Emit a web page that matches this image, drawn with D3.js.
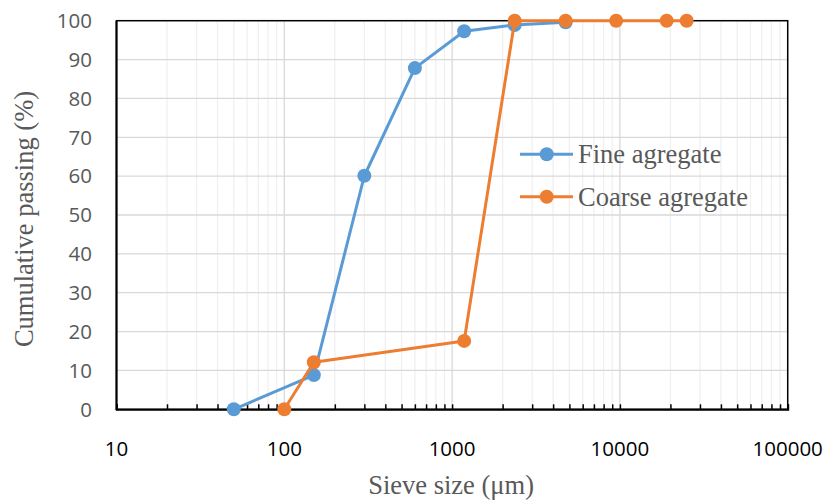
<!DOCTYPE html>
<html><head><meta charset="utf-8">
<script src="https://cdn.jsdelivr.net/npm/d3@7"></script>
<style>body{margin:0;background:#fff}svg{display:block}</style>
</head><body>
<svg id="c" width="826" height="502"></svg>
<script>
const fineSize = [50, 150, 300, 600, 1180, 2360, 4750];
const finePass = [0, 8.8, 60.1, 87.8, 97.3, 98.9, 99.6];
const coarseSize = [100, 150, 1180, 2360, 4750, 9500, 19000, 25000];
const coarsePass = [0, 12.1, 17.6, 100, 100, 100, 100, 100];
const xTicks = [10, 100, 1000, 10000, 100000];
const yTicks = [0, 10, 20, 30, 40, 50, 60, 70, 80, 90, 100];
const seriesNames = ["Fine agregate", "Coarse agregate"];
const colors = ["#5B9BD5", "#ED7D31"];
const xTitle = "Sieve size (μm)";
const yTitle = "Cumulative passing (%)";

const svg = d3.select("#c");
const L = 116.5, R = 787.7, T = 20.7, B = 409.3;
const x = d3.scaleLog().domain([10, 100000]).range([L, R]);
const y = d3.scaleLinear().domain([0, 100]).range([B, T]);
const sans = "'Open Sans', 'Liberation Sans', sans-serif";
const serif = "'Liberation Serif', 'Times New Roman', serif";

// minor vertical gridlines
const minor = [];
for (let d = 10; d < 100000; d *= 10) for (let k = 2; k <= 9; k++) minor.push(d * k);
svg.append("g").selectAll("line").data(minor).join("line")
  .attr("x1", d => x(d)).attr("x2", d => x(d)).attr("y1", T).attr("y2", B)
  .attr("stroke", "#f0f0f0").attr("stroke-width", 1.3);
svg.append("g").selectAll("line").data(xTicks).join("line")
  .attr("x1", d => x(d)).attr("x2", d => x(d)).attr("y1", T).attr("y2", B)
  .attr("stroke", "#d9d9d9").attr("stroke-width", 1.3);
svg.append("g").selectAll("line").data(yTicks).join("line")
  .attr("x1", L).attr("x2", R).attr("y1", d => y(d)).attr("y2", d => y(d))
  .attr("stroke", "#d9d9d9").attr("stroke-width", 1.3);

// frame
svg.append("rect").attr("x", L).attr("y", T).attr("width", R - L).attr("height", B - T)
  .attr("fill", "none").attr("stroke", "#000").attr("stroke-width", 1.5);

// bottom axis with inward ticks
const xAxis = d3.axisBottom(x).tickValues(minor.concat(xTicks)).tickSize(-5).tickFormat("");
const gx = svg.append("g").attr("transform", `translate(0,${B})`).call(xAxis);
gx.select(".domain").attr("stroke", "#000").attr("stroke-width", 2);
gx.selectAll(".tick line").attr("stroke", "#000").attr("stroke-width", 1.5);
svg.append("line").attr("x1", L).attr("x2", L).attr("y1", T).attr("y2", B + 1)
  .attr("stroke", "#000").attr("stroke-width", 2);

// tick labels
svg.append("g").selectAll("text").data(xTicks).join("text")
  .attr("x", d => x(d)).attr("y", 456).attr("text-anchor", "middle")
  .attr("font-family", sans).attr("font-size", 20.5)
  .attr("fill", "#000").text(d => d);
svg.append("g").selectAll("text").data(yTicks).join("text")
  .attr("x", 92).attr("y", d => y(d) + 7.3).attr("text-anchor", "end")
  .attr("font-family", sans).attr("font-size", 20.5)
  .attr("fill", "#595959").text(d => d);

// titles
svg.append("text").attr("x", (L + R) / 2 - 1).attr("y", 494.3).attr("text-anchor", "middle")
  .attr("font-family", serif).attr("font-size", 26.5)
  .attr("fill", "#595959").text(xTitle);
svg.append("text").attr("transform", `translate(33,219) rotate(-90)`)
  .attr("text-anchor", "middle")
  .attr("font-family", serif).attr("font-size", 26.5)
  .attr("fill", "#595959").text(yTitle);

// series
const series = [
  fineSize.map((s, i) => [s, finePass[i]]),
  coarseSize.map((s, i) => [s, coarsePass[i]])
];
const line = d3.line().x(d => x(d[0])).y(d => y(d[1]));
series.forEach((data, i) => {
  const g = svg.append("g");
  g.append("path").attr("d", line(data)).attr("fill", "none")
    .attr("stroke", colors[i]).attr("stroke-width", 3).attr("stroke-linejoin", "round");
  g.selectAll("circle").data(data).join("circle")
    .attr("cx", d => x(d[0])).attr("cy", d => y(d[1])).attr("r", 7).attr("fill", colors[i]);
});

// legend
const legY = [154.3, 196.7];
seriesNames.forEach((n, i) => {
  const g = svg.append("g");
  g.append("line").attr("x1", 520).attr("x2", 573).attr("y1", legY[i]).attr("y2", legY[i])
    .attr("stroke", colors[i]).attr("stroke-width", 3);
  g.append("circle").attr("cx", 546.7).attr("cy", legY[i]).attr("r", 7).attr("fill", colors[i]);
  g.append("text").attr("x", 578).attr("y", legY[i] + 9)
    .attr("font-family", serif).attr("font-size", 26.5)
    .attr("fill", "#595959").text(n);
});
</script>
</body></html>
